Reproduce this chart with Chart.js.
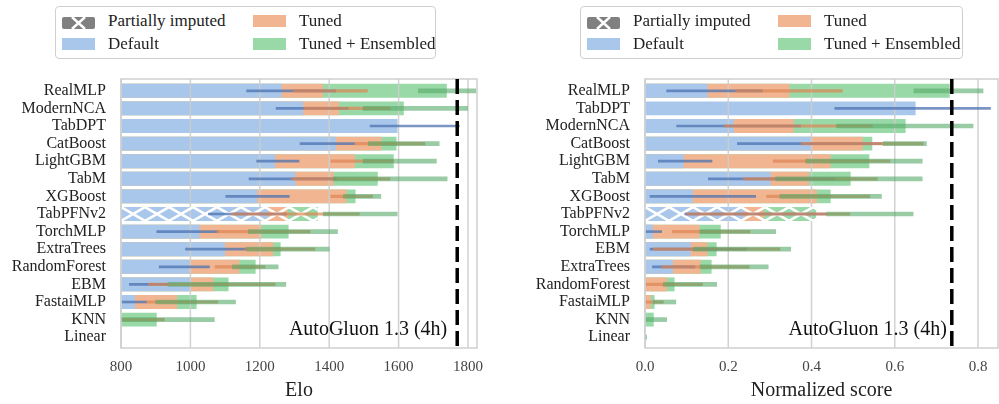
<!DOCTYPE html>
<html>
<head>
<meta charset="utf-8">
<script src="https://cdn.jsdelivr.net/npm/chart.js@4.4.1/dist/chart.umd.min.js"></script>
<style>
  body { margin: 0; background: #fff; font-family: 'Liberation Serif', serif; }
  #wrap { position: relative; width: 999px; height: 404px; }
  .box { position: absolute; top: 0; height: 404px; }
  .legend { position: absolute; top: 6px; height: 53px; border: 1.5px solid #cfcfcf; border-radius: 4px; box-sizing: border-box; background: #fff; }
  .item { position: absolute; font-size: 17px; line-height: 18px; color: #222; white-space: nowrap; }
  .sw { position: absolute; width: 33px; height: 12px; }
</style>
</head>
<body>
<div id="wrap">
  <div class="box" style="left:0;width:499px"><canvas id="eloChart"></canvas></div>
  <div class="box" style="left:499px;width:500px"><canvas id="scoreChart"></canvas></div>
</div>
<script>
// ---- left panel: Elo ----
const eloModels = ['RealMLP', 'ModernNCA', 'TabDPT', 'CatBoost', 'LightGBM', 'TabM', 'XGBoost', 'TabPFNv2', 'TorchMLP', 'ExtraTrees', 'RandomForest', 'EBM', 'FastaiMLP', 'KNN', 'Linear'];
const eloDefault = [1263, 1325, 1597, 1419, 1244, 1303, 1192, 1223, 1026, 1100, 997, 1002, 840, null, null];
const eloTuned = [1382, 1428, null, 1551, 1474, 1413, 1450, 1280, 1205, 1239, 1141, 1066, 962, null, null];
const eloEnsembled = [1739, 1615, null, 1594, 1586, 1540, 1476, 1367, 1283, 1260, 1188, 1110, 1018, 903, null];
const eloDefaultCI = [[1162, 1419], [1247, 1455], [1518, 1775], [1316, 1474], [1191, 1313], [1169, 1421], [1102, 1285], [1052, 1277], [903, 1080], [986, 1162], [910, 1055], [824, 936], [803, 874], null, null];
const eloTunedCI = [[1297, 1510], [1327, 1575], null, [1474, 1676], [1405, 1585], [1292, 1575], [1405, 1525], [1119, 1487], [1076, 1345], [1157, 1359], [1071, 1215], [879, 1244], [874, 1079], [790, 925], null];
const eloEnsembledCI = [[1657, 1823], [1498, 1799], null, [1513, 1717], [1498, 1709], [1412, 1740], [1441, 1549], [1383, 1596], [1167, 1424], [1162, 1400], [1121, 1253], [936, 1275], [900, 1130], [790, 1069], null];
const eloTicks = [800, 1000, 1200, 1400, 1600, 1800];
const eloAutoGluon = 1769;

// ---- right panel: normalized score ----
const scoreModels = ['RealMLP', 'TabDPT', 'ModernNCA', 'CatBoost', 'LightGBM', 'TabM', 'XGBoost', 'TabPFNv2', 'TorchMLP', 'EBM', 'ExtraTrees', 'RandomForest', 'FastaiMLP', 'KNN', 'Linear'];
const scoreDefault = [0.150, 0.650, 0.213, 0.400, 0.093, 0.302, 0.115, 0.237, 0.019, 0.110, 0.067, 0, 0, 0, 0];
const scoreTuned = [0.347, null, 0.357, 0.523, 0.446, 0.394, 0.413, 0.285, 0.131, 0.150, 0.134, 0.053, 0.014, null, null];
const scoreEnsembled = [0.732, null, 0.626, 0.546, 0.539, 0.494, 0.446, 0.411, 0.182, 0.172, 0.160, 0.071, 0.023, 0.021, null];
const scoreDefaultCI = [[0.052, 0.282], [0.456, 0.830], [0.076, 0.374], [0.222, 0.570], [0.032, 0.161], [0.152, 0.456], [0.012, 0.266], [0.096, 0.436], [0.002, 0.040], [0.012, 0.244], [0.018, 0.120], null, null, null, null];
const scoreTunedCI = [[0.218, 0.474], null, [0.190, 0.546], [0.376, 0.668], [0.308, 0.588], [0.236, 0.558], [0.292, 0.540], [0.100, 0.492], [0.066, 0.252], [0.020, 0.324], [0.040, 0.250], [0.002, 0.138], [0.002, 0.044], null, null];
const scoreEnsembledCI = [[0.646, 0.812], null, [0.460, 0.788], [0.572, 0.676], [0.386, 0.666], [0.314, 0.666], [0.324, 0.568], [0.436, 0.644], [0.132, 0.314], [0.116, 0.350], [0.132, 0.296], [0.044, 0.172], [0.020, 0.074], [0.002, 0.052], [0.000, 0.004]];
const scoreTicks = [0, 0.2, 0.4, 0.6, 0.8];
const scoreAutoGluon = 0.737;

const legendNames = ['Partially imputed', 'Default', 'Tuned', 'Tuned + Ensembled'];
const FONT = "'Liberation Serif', 'Times New Roman', serif";
const colDefault = '#a9c7eb', colTuned = '#f1b691', colEns = '#98d9a7';

function drawLegend(left, width) {
  const wrap = document.getElementById('wrap');
  const box = document.createElement('div');
  box.className = 'legend';
  box.style.left = left + 'px';
  box.style.width = width + 'px';
  const swatches = ['hatch', colDefault, colTuned, colEns];
  const spots = [[6, 8], [6, 31], [197, 8], [197, 31]];
  legendNames.forEach((name, i) => {
    const sw = document.createElement('div');
    sw.className = 'sw';
    sw.style.left = spots[i][0] + 'px';
    sw.style.top = spots[i][1] + 'px';
    if (swatches[i] === 'hatch') {
      sw.innerHTML = '<svg width="33" height="12"><rect width="33" height="12" rx="2" fill="#808080"/>' +
        '<path d="M10 0 L23 12 M10 12 L23 0" stroke="#fff" stroke-width="2.5"/></svg>';
    } else {
      sw.style.background = swatches[i];
    }
    const txt = document.createElement('div');
    txt.className = 'item';
    txt.style.left = (spots[i][0] + 46) + 'px';
    txt.style.top = (spots[i][1] - 3) + 'px';
    txt.textContent = name;
    box.appendChild(sw);
    box.appendChild(txt);
  });
  wrap.appendChild(box);
}

function drawPanel(id, cfg) {
  // frame is a little taller than the category band (matplotlib margins)
  const frameTop = a => a.top - 3, frameBot = a => a.bottom + 2;
  const overlay = {
    id: 'overlay',
    afterDatasetDraw(chart, args) {
      if (args.index !== 0) return;
      const ctx = chart.ctx, a = chart.chartArea, xs = chart.scales.x;
      ctx.save();
      // grid sits over the bars like in the original
      ctx.strokeStyle = 'rgba(205,205,205,0.9)';
      ctx.lineWidth = 1.5;
      xs.ticks.forEach(t => {
        const px = xs.getPixelForValue(t.value);
        ctx.beginPath(); ctx.moveTo(px, frameTop(a)); ctx.lineTo(px, frameBot(a)); ctx.stroke();
      });
      // partially imputed row gets the X hatching
      const el = chart.getDatasetMeta(2).data[cfg.hatchRow];
      const top = el.y - el.height / 2, bot = el.y + el.height / 2;
      ctx.beginPath();
      ctx.rect(a.left, top, el.x - a.left, bot - top);
      ctx.clip();
      ctx.strokeStyle = '#fff';
      ctx.lineWidth = 2.5;
      const P = 24;
      for (let x0 = a.left; x0 < el.x; x0 += P) {
        ctx.beginPath();
        ctx.moveTo(x0, top); ctx.lineTo(x0 + P, bot);
        ctx.moveTo(x0, bot); ctx.lineTo(x0 + P, top);
        ctx.stroke();
      }
      ctx.restore();
    },
    afterDraw(chart) {
      const ctx = chart.ctx, a = chart.chartArea, xs = chart.scales.x;
      ctx.save();
      ctx.strokeStyle = '#cfcfcf';
      ctx.lineWidth = 1.5;
      ctx.strokeRect(a.left, frameTop(a), a.right - a.left, frameBot(a) - frameTop(a));
      const px = xs.getPixelForValue(cfg.ref);
      ctx.strokeStyle = '#000';
      ctx.lineWidth = 3.5;
      ctx.setLineDash([15, 6]);
      ctx.beginPath(); ctx.moveTo(px, frameTop(a)); ctx.lineTo(px, frameBot(a)); ctx.stroke();
      ctx.font = '20px ' + FONT;
      ctx.fillStyle = '#111';
      ctx.textAlign = 'right';
      ctx.textBaseline = 'middle';
      ctx.fillText('AutoGluon 1.3 (4h)', px - cfg.refGap, a.bottom - 16);
      ctx.restore();
    }
  };

  const bar = (label, data, color, order) => ({
    label, data, backgroundColor: color, order, grouped: false,
    barPercentage: 0.79, categoryPercentage: 1.0
  });
  const ci = (label, data, color, w, order) => ({
    label, data, backgroundColor: color, order, grouped: false, barThickness: w
  });

  new Chart(document.getElementById(id), {
    type: 'bar',
    data: {
      labels: cfg.labels,
      datasets: [
        bar('Default', cfg.def, colDefault, 4),
        bar('Tuned', cfg.tuned, colTuned, 5),
        bar('Tuned + Ensembled', cfg.ens, colEns, 6),
        ci('Default CI', cfg.defCI, 'rgba(76,114,176,0.75)', 2, 3),
        ci('Tuned CI', cfg.tunedCI, 'rgba(221,132,82,0.7)', 2.5, 2),
        ci('Tuned + Ensembled CI', cfg.ensCI, 'rgba(85,168,104,0.6)', 4, 1)
      ]
    },
    options: {
      indexAxis: 'y',
      responsive: true,
      maintainAspectRatio: false,
      animation: false,
      layout: { padding: { top: 82, right: cfg.padRight, bottom: 0, left: 0 } },
      plugins: { legend: { display: false }, tooltip: { enabled: false } },
      scales: {
        x: {
          type: 'linear', min: cfg.min, max: cfg.max,
          afterBuildTicks: s => { s.ticks = cfg.ticks.map(v => ({ value: v })); },
          afterFit: s => { s.height = 58; s.paddingLeft = 0; s.paddingRight = 0; },
          grid: { display: false, drawTicks: false },
          border: { display: false },
          ticks: { font: { family: FONT, size: 15 }, color: '#444', padding: 12, callback: cfg.fmt },
          title: { display: true, text: cfg.title, font: { family: FONT, size: 20 }, color: '#222', padding: { top: 2, bottom: 1 } }
        },
        y: {
          afterFit: s => { s.width = cfg.yWidth; },
          grid: { display: false, drawTicks: false },
          border: { display: false },
          ticks: { font: { family: FONT, size: 16 }, color: '#222', padding: 15, autoSkip: false }
        }
      }
    },
    plugins: [overlay]
  });
}

drawPanel('eloChart', {
  labels: eloModels, def: eloDefault, tuned: eloTuned, ens: eloEnsembled,
  defCI: eloDefaultCI, tunedCI: eloTunedCI, ensCI: eloEnsembledCI,
  min: 800, max: 1826, ticks: eloTicks, fmt: v => String(v), title: 'Elo',
  ref: eloAutoGluon, refGap: 10, hatchRow: 7, yWidth: 121, padRight: 22
});
drawPanel('scoreChart', {
  labels: scoreModels, def: scoreDefault, tuned: scoreTuned, ens: scoreEnsembled,
  defCI: scoreDefaultCI, tunedCI: scoreTunedCI, ensCI: scoreEnsembledCI,
  min: 0, max: 0.848, ticks: scoreTicks, fmt: v => v.toFixed(1), title: 'Normalized score',
  ref: scoreAutoGluon, refGap: 5, hatchRow: 7, yWidth: 146, padRight: 1
});
drawLegend(55, 381);
drawLegend(580, 383);
</script>
</body>
</html>
